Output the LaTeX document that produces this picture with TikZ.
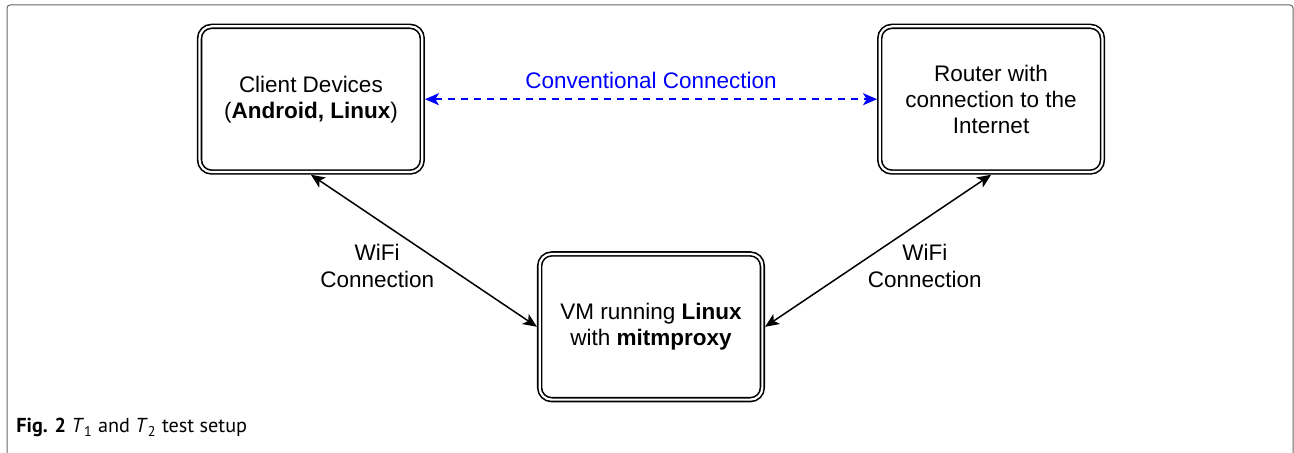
\documentclass[tikz,border=0pt]{standalone}
\usepackage{fontspec}
\setmainfont{Liberation Sans}
\newfontfamily\capfont{PT Sans}
\usetikzlibrary{arrows.meta,matrix}
\definecolor{connblue}{RGB}{0,0,255}
\def \wifi {WiFi\\Connection}
\def \conv {Conventional Connection}

\begin{document}
\begin{tikzpicture}[x=0.5pt,y=-0.5pt,
      >={Stealth[length=7pt,width=6pt,inset=1.8pt]},
      devbox/.style={draw,double,line width=0.8pt,double distance=1.1pt,
        rounded corners=6pt,minimum width=111.35pt,minimum height=72.85pt,
        outer sep=1.35pt,align=center,inner sep=2pt,
        font=\fontsize{11.25}{13}\selectfont},
      link/.style={line width=0.75pt},
      lbl/.style={align=center,inner sep=3.33pt,
        font=\fontsize{11.25}{13.5}\selectfont}]
      \useasboundingbox (0,0) rectangle (1294,453);
      \draw[gray!80!black,line width=0.5pt,rounded corners=1.5pt]
        (7,460) -- (7,5) -- (1293,5) -- (1293,460);
      \matrix[inner sep=0pt] at (651,213) {
        \node[devbox] (client) {Client Devices\\(\textbf{Android, Linux})};
        &[56pt] &[56pt] \node[devbox] (router) {Router with\\connection to the\\Internet}; \\[38.25pt]
        & \node[devbox] (vm) {VM running \textbf{Linux}\\with \textbf{mitmproxy}}; & \\
      };
      \draw (client) edge[link,connblue,dash pattern=on 3.5pt off 3pt,<->]
        node[lbl,above=1.3pt,text=connblue] (convlbl) {\conv} (router);
      \draw (client.south) edge[link,<->]
        node[lbl,pos=0.6,left=2.5pt] (wifileft) {\wifi} (vm.west);
      \draw (router.south) edge[link,<->]
        node[lbl,pos=0.6,right=2.5pt] (wifiright) {\wifi} (vm.east);
      \node[anchor=base west,inner sep=0pt,font=\capfont\fontsize{10.1}{12}\selectfont]
        (caption) at (16,433) {\textbf{Fig. 2} \textit{T}\textsubscript{1} and \textit{T}\textsubscript{2} test setup};
    \end{tikzpicture}
\end{document}
